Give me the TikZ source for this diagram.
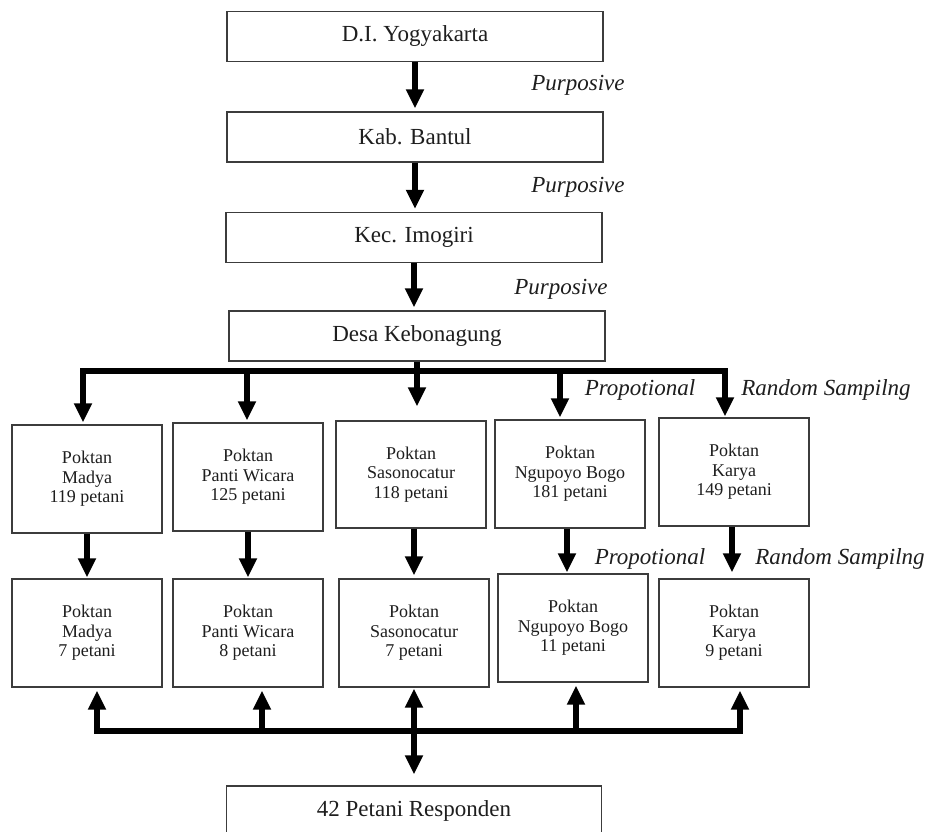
\documentclass[tikz,border=0pt]{standalone}
\usepackage{fontspec}
\setmainfont{Liberation Serif}
\usetikzlibrary{arrows.meta}
\definecolor{boxgray}{RGB}{60,60,60}
\definecolor{txt}{RGB}{30,30,30}
\begin{document}
\begin{tikzpicture}[x=1pt,y=-1pt,
  bigbox/.style={draw=boxgray, line width=1.4pt, minimum width=376pt, minimum height=50pt, inner sep=0pt, text=txt, font=\fontsize{23}{26}\selectfont},
  smallbox/.style={draw=boxgray, line width=1.4pt, minimum width=150pt, minimum height=108pt, inner sep=0pt, align=center, text=txt, font=\fontsize{18}{19.5}\selectfont},
  lbl/.style={font=\fontsize{23}{26}\selectfont\itshape, inner sep=0pt, text=txt},
  flow/.style={line width=5.5pt, -{Triangle[width=17pt,length=19pt]}},
  bothflow/.style={line width=5.5pt, {Triangle[width=17pt,length=19pt]}-{Triangle[width=17pt,length=19pt]}},
  bar/.style={line width=5.5pt, line cap=rect},
  stem/.style={line width=5.5pt}]
\useasboundingbox (0,0) rectangle (930,832);
\clip (0,0) rectangle (930,832);
\fill[white] (0,0) rectangle (930,832);

% top chain
\node[bigbox] (yog) at (415,36.5) {D.I. Yogyakarta};
\node[bigbox] (bantul) at (415,137) {Kab. Bantul};
\node[bigbox] (imogiri) at (414,237.5) {Kec. Imogiri};
\node[bigbox] (desa) at (417,336) {Desa Kebonagung};

\draw[flow, shorten >=3pt] (yog.south) -- (bantul.north);
\draw[flow, shorten >=3pt] (bantul.south) -- (bantul.south |- imogiri.north);
\draw[flow, shorten >=3pt] (imogiri.south) -- (imogiri.south |- desa.north);

\node[lbl] (pur1) at (578,85) {Purposive};
\node[lbl] (pur2) at (578,187) {Purposive};
\node[lbl] (pur3) at (561,289) {Purposive};

% row 1
\node[smallbox] (m1) at (87,479) {Poktan\\Madya\\119 petani};
\node[smallbox] (p1) at (248,477) {Poktan\\Panti Wicara\\125 petani};
\node[smallbox, minimum height=107pt] (s1) at (411,474.5) {Poktan\\Sasonocatur\\118 petani};
\node[smallbox] (n1) at (570,474) {Poktan\\Ngupoyo Bogo\\181 petani};
\node[smallbox] (k1) at (734,472) {Poktan\\Karya\\149 petani};

% row 2
\node[smallbox] (m2) at (87,633) {Poktan\\Madya\\7 petani};
\node[smallbox] (p2) at (248,633) {Poktan\\Panti Wicara\\8 petani};
\node[smallbox] (s2) at (414,633) {Poktan\\Sasonocatur\\7 petani};
\node[smallbox] (n2) at (573,628) {Poktan\\Ngupoyo Bogo\\11 petani};
\node[smallbox] (k2) at (734,633) {Poktan\\Karya\\9 petani};

% bottom
\node[bigbox, minimum width=375pt] (resp) at (414,811) {42 Petani Responden};

% top distribution bar
\coordinate (t1) at (83,371);
\coordinate (t2) at (247,371);
\coordinate (t3) at (417,371);
\coordinate (t4) at (560,371);
\coordinate (t5) at (725,371);
\draw[bar] (t1) -- (t5);
\draw[stem] (desa.south) -- (t3);
\draw[flow, shorten >=2pt] (t1) -- (t1 |- m1.north);
\draw[flow, shorten >=2pt] (t2) -- (t2 |- p1.north);
\draw[flow, shorten >=14pt] (t3) -- (t3 |- s1.north);
\draw[flow, shorten >=2pt] (t4) -- (t4 |- n1.north);
\draw[flow, shorten >=1pt] (t5) -- (t5 |- k1.north);

\node[lbl] (prop1) at (640,390) {Propotional};
\node[lbl] (rand1) at (826,390) {Random Sampilng};

% row 1 -> row 2
\draw[flow, shorten >=1pt] (m1.south) -- (m1.south |- m2.north);
\draw[flow, shorten >=1pt] (p1.south) -- (p1.south |- p2.north);
\draw[flow, shorten >=3pt] (s1.south -| s2.north) -- (s2.north);
\draw[flow, shorten >=1pt] ([xshift=-3pt]n1.south) -- ([xshift=-3pt]n1.south |- n2.north);
\draw[flow, shorten >=6pt] ([xshift=-2pt]k1.south) -- ([xshift=-2pt]k1.south |- k2.north);

\node[lbl] (prop2) at (650,559) {Propotional};
\node[lbl] (rand2) at (840,559) {Random Sampilng};

% bottom collection bar
\coordinate (u1) at (97,731);
\coordinate (u2) at (262,731);
\coordinate (u3) at (414,731);
\coordinate (u4) at (576,731);
\coordinate (u5) at (740,731);
\draw[bar] (u1) -- (u5);
\draw[flow, shorten >=3pt] (u1) -- (u1 |- m2.south);
\draw[flow, shorten >=3pt] (u2) -- (u2 |- p2.south);
\draw[flow, shorten >=3pt] (u4) -- (u4 |- n2.south);
\draw[flow, shorten >=3pt] (u5) -- (u5 |- k2.south);
\draw[bothflow, shorten <=1pt, shorten >=11pt] (s2.south) -- (s2.south |- resp.north);
\end{tikzpicture}
\end{document}
